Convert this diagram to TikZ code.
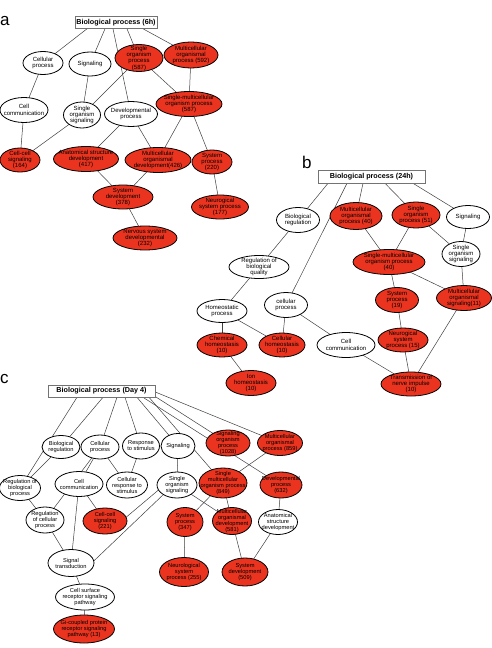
\documentclass[tikz,border=0pt]{standalone}
\usepackage{fontspec}
\setmainfont{Liberation Sans}
\usetikzlibrary{shapes.geometric,backgrounds}
\definecolor{gored}{RGB}{234,52,31}
\newcommand\ov[7]{\node[#6,minimum width=#4pt,minimum height=#5pt,label={[lab]center:{#7}}] (#1) at (#2,#3) {};}
\begin{document}
\begin{tikzpicture}[x=1pt,y=-1pt,
 ov/.style={ellipse,draw=black,line width=0.8pt,fill=white,inner sep=0pt,outer sep=0pt},
 rd/.style={ov,fill=gored},
 lab/.style={align=center,font=\fontsize{6}{6.3}\selectfont,inner sep=0pt},
 tb/.style={draw=black!55,line width=0.6pt,fill=white,inner sep=0pt,font=\bfseries\fontsize{7.2}{8}\selectfont},
 ed/.style={draw=black!75,line width=0.5pt},
 pl/.style={font=\fontsize{17}{17}\selectfont,anchor=base west,inner sep=0pt}]
\useasboundingbox (0,0) rectangle (492,648);

% ---------------- panel a
\node[pl] (la) at (0,25) {a};
\node[tb,minimum width=82pt,minimum height=12pt] (ta) at (116,22.5) {Biological process (6h)};
\ov{cpa}{43}{63}{40}{23}{ov}{Cellular\\process}
\ov{siga}{90}{64}{42}{24}{ov}{Signaling}
\ov{sopa}{139}{58}{48}{27}{rd}{Single\\organism\\process\\(587)}
\ov{mopa}{191}{55}{54}{26}{rd}{Multicellular\\organismal\\process (592)}
\ov{cca}{24}{110}{48}{25}{ov}{Cell\\communication}
\ov{sosa}{82}{115}{37}{26}{ov}{Single\\organism\\signaling}
\ov{dpa}{131}{114}{53}{25}{ov}{Developmental\\process}
\ov{smpa}{189}{104}{66}{25}{rd}{Single-multicellular\\organism process\\(587)}
\ov{ccsa}{20}{160}{40}{24}{rd}{Cell-cell\\signaling\\(164)}
\ov{asda}{86}{159}{65}{25}{rd}{Anatomical structure\\development\\(417)}
\ov{moda}{158}{160}{66}{25}{rd}{Multicellular\\organismal\\development(426)}
\ov{spa}{212}{162}{40}{24}{rd}{System\\process\\(220)}
\ov{sda}{123}{197}{60}{24}{rd}{System\\development\\(378)}
\ov{nspa}{220}{207}{57}{24}{rd}{Neurogical\\system process\\(177)}
\ov{nsda}{145}{238}{64}{24}{rd}{Nervous system\\developmental\\(232)}

% ---------------- panel b
\node[pl] (lb) at (302,168) {b};
\node[tb,minimum width=107pt,minimum height=13pt] (tbb) at (371.5,176.5) {Biological process (24h)};
\ov{brb}{298}{220}{43}{25}{ov}{Biological\\regulation}
\ov{mopb}{356}{216}{52}{27}{rd}{Multicellular\\organismal\\process (40)}
\ov{sopb}{416}{215}{48}{26}{rd}{Single\\organism\\process (51)}
\ov{sigb}{468}{217}{43}{23}{ov}{Signaling}
\ov{sosb}{461}{254}{38}{25}{ov}{Single\\organism\\signaling}
\ov{smpb}{389}{262}{72}{25}{rd}{Single-multicellular\\organism process\\(40)}
\ov{rbqb}{259}{267}{60}{23}{ov}{Regulation of\\biological\\quality}
\ov{hpb}{222}{311}{50}{23}{ov}{Homeostatic\\process}
\ov{cpb}{286}{305}{43}{25}{ov}{cellular\\process}
\ov{chb}{222}{345}{50}{24}{rd}{Chemical\\homeostasis\\(10)}
\ov{chsb}{282}{345}{46}{24}{rd}{Cellular\\homeostasis\\(10)}
\ov{ihb}{251}{383}{50}{25}{rd}{Ion\\homeostasis\\(10)}
\ov{ccb}{346}{345}{58}{25}{ov}{Cell\\communication}
\ov{spb}{397}{300}{43}{25}{rd}{System\\process\\(19)}
\ov{mosb}{464}{298}{55}{25}{rd}{Multicellular\\organismal\\signaling(11)}
\ov{nspb}{403}{340}{50}{24}{rd}{Neurogical\\system\\process (15)}
\ov{tnib}{411}{384}{60}{24}{rd}{Transmission of\\nerve impulse\\(10)}

% ---------------- panel c
\node[pl] (lc) at (0,383) {c};
\node[tb,minimum width=107pt,minimum height=12pt] (tc) at (101.5,391) {Biological process (Day 4)};
\begin{scope}[lab/.append style={font=\fontsize{5.7}{6}\selectfont}]
\ov{brc}{61}{447}{38}{23}{ov}{Biological\\regulation}
\ov{cpc}{100}{447}{38}{24}{ov}{Cellular\\process}
\ov{rsc}{141}{446}{37}{26}{ov}{Response\\to stimulus}
\ov{sigc}{178}{446}{34}{25}{ov}{Signaling}
\ov{sgoc}{228}{443}{44}{26}{rd}{Signaling\\organism\\process\\(1028)}
\ov{mopc}{280}{443}{45}{25}{rd}{Multicellular\\organismal\\process (859)}
\ov{rbpc}{20}{488}{41}{25}{ov}{Regulation of\\biological\\process}
\ov{ccc}{79}{484}{48}{25}{ov}{Cell\\communication}
\ov{crsc}{127}{485}{41}{26}{ov}{Cellular\\response to\\stimulus}
\ov{sosc}{177}{485}{40}{26}{ov}{Single\\organism\\signaling}
\ov{smpc}{223}{483}{48}{30}{rd}{Single\\multicellular\\organism process\\(849)}
\ov{dpc}{281}{485}{42}{26}{rd}{Developmental\\process\\(632)}
\ov{rcpc}{45}{520}{38}{26}{ov}{Regulation\\of cellular\\process}
\ov{ccsc}{105}{521}{44}{26}{rd}{Cell-cell\\signaling\\(221)}
\ov{spc}{185}{522}{36}{29}{rd}{System\\process\\(347)}
\ov{modc}{232}{521}{39}{27}{rd}{Multicellular\\organismal\\development\\(581)}
\ov{asdc}{278}{522}{39}{25}{ov}{Anatomical\\structure\\development}
\ov{stc}{71}{563}{46}{27}{ov}{Signal\\transduction}
\ov{nspc}{184}{572}{49}{29}{rd}{Neurological\\system\\process (255)}
\ov{sdc}{245}{572}{46}{28}{rd}{System\\development\\(509)}
\ov{csrc}{85}{597}{59}{26}{ov}{Cell surface\\receptor signaling\\pathway}
\ov{gic}{84}{629}{61}{28}{rd}{Gi-coupled protein\\receptor signaling\\pathway (13)}
\end{scope}

\begin{scope}[on background layer]
\fill[white] (0,0) rectangle (492,648);
% a
\draw[ed] ([xshift=-29pt]ta.south) -- (cpa);
\draw[ed] ([xshift=-11pt]ta.south) -- (siga);
\draw[ed] ([xshift=-3pt]ta.south) -- (dpa);
\draw[ed] ([xshift=11pt]ta.south) -- (sopa);
\draw[ed] ([xshift=27pt]ta.south) -- (mopa);
\draw[ed] (cpa) -- (cca);
\draw[ed] (cca) -- (ccsa);
\draw[ed] (siga) -- (sosa);
\draw[ed] (sopa) -- (sosa);
\draw[ed] (sopa) -- (smpa);
\draw[ed] (mopa) -- (smpa);
\draw[ed] (sosa) -- (ccsa);
\draw[ed] (dpa) -- (asda);
\draw[ed] (dpa) -- (moda);
\draw[ed] (smpa) -- (moda);
\draw[ed] (smpa) -- (spa);
\draw[ed] (asda) -- (sda);
\draw[ed] (moda) -- (sda);
\draw[ed] (sda) -- (nsda);
\draw[ed] (spa) -- (nspa);
% b
\draw[ed] ([xshift=-43.5pt]tbb.south) -- (brb);
\draw[ed] ([xshift=-24.5pt]tbb.south) -- (cpb);
\draw[ed] ([xshift=-8.5pt]tbb.south) -- (mopb);
\draw[ed] ([xshift=13.5pt]tbb.south) -- (sopb);
\draw[ed] ([xshift=41.5pt]tbb.south) -- (sigb);
\draw[ed] (brb) -- (rbqb);
\draw[ed] (rbqb) -- (hpb);
\draw[ed] (hpb) -- (chb);
\draw[ed] (hpb) -- (chsb);
\draw[ed] (chb) -- (ihb);
\draw[ed] (cpb) -- (chsb);
\draw[ed] (cpb) -- (ccb);
\draw[ed] (ccb) -- (tnib);
\draw[ed] (mopb) -- (smpb);
\draw[ed] (sopb) -- (smpb);
\draw[ed] (sopb) -- (sosb);
\draw[ed] (sigb) -- (sosb);
\draw[ed] (sosb) -- (mosb);
\draw[ed] (smpb) -- (spb);
\draw[ed] (smpb) -- (mosb);
\draw[ed] (spb) -- (nspb);
\draw[ed] (nspb) -- (tnib);
\draw[ed] (mosb) -- (tnib);
% c
\draw[ed] ([xshift=-24.5pt]tc.south) -- (rbpc);
\draw[ed] ([xshift=1.5pt]tc.south) -- (brc);
\draw[ed] ([xshift=15.5pt]tc.south) -- (cpc);
\draw[ed] ([xshift=23.5pt]tc.south) -- (rsc);
\draw[ed] ([xshift=35.5pt]tc.south) -- (sigc);
\draw[ed] ([xshift=41.5pt]tc.south) -- (dpc);
\draw[ed] ([xshift=47.5pt]tc.south) -- (smpc);
\draw[ed] ([xshift=-2pt,yshift=2pt]tc.south east) -- (sgoc);
\draw[ed] ([yshift=-1pt]tc.east) -- (mopc);
\draw[ed] (brc) -- (rbpc);
\draw[ed] (rbpc) -- (rcpc);
\draw[ed] (cpc) -- (rcpc);
\draw[ed] (cpc) -- (ccc);
\draw[ed] (cpc) -- (crsc);
\draw[ed] (rsc) -- (crsc);
\draw[ed] (sigc) -- (sosc);
\draw[ed] (ccc) -- (ccsc);
\draw[ed] (ccc) -- (stc);
\draw[ed] (sosc.195) -- (ccsc.10);
\draw[ed] (sosc.215) -- (stc.5);
\draw[ed] (rcpc) -- (stc);
\draw[ed] (stc) -- (csrc);
\draw[ed] (csrc) -- (gic);
\draw[ed] (sosc) -- (modc);
\draw[ed] (mopc) -- (smpc);
\draw[ed] (smpc) -- (spc);
\draw[ed] (smpc) -- (modc);
\draw[ed] (dpc) -- (asdc);
\draw[ed] (spc) -- (nspc);
\draw[ed] (modc) -- (sdc);
\draw[ed] (asdc) -- (sdc);
\end{scope}
\end{tikzpicture}
\end{document}
